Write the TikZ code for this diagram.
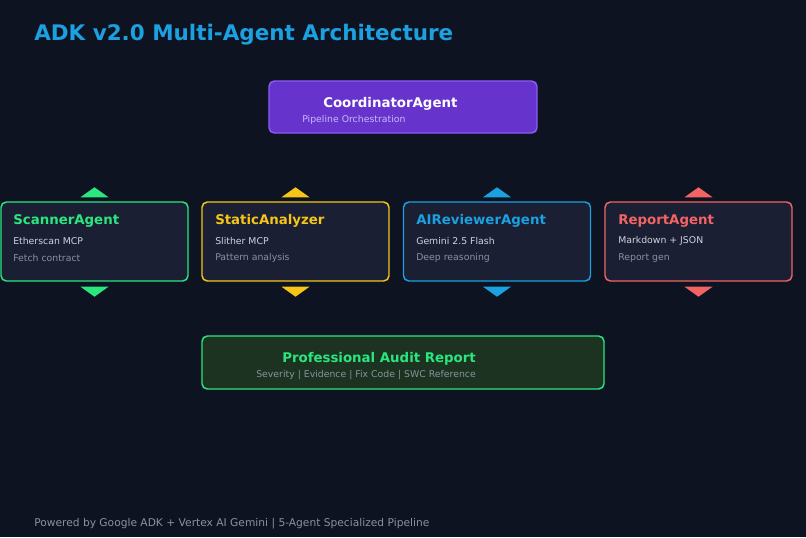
\documentclass[tikz,border=0pt]{standalone}
\usepackage{fontspec}
\setmainfont{DejaVu Sans}
\usetikzlibrary{calc}
\definecolor{bg}{HTML}{0E1322}
\definecolor{cardbg}{HTML}{1A1F33}
\definecolor{cgreen}{HTML}{2BE67F}
\definecolor{cyellow}{HTML}{F5C518}
\definecolor{cblue}{HTML}{1BA0E0}
\definecolor{cred}{HTML}{F26464}
\definecolor{cpurple}{HTML}{6633CC}
\definecolor{cpurpleb}{HTML}{8B5CF6}
\definecolor{cpurplet}{HTML}{C9B8F5}
\definecolor{ltext}{HTML}{D0D4DE}
\definecolor{gtext}{HTML}{8C919E}
\definecolor{auditbg}{HTML}{1B3320}
\tikzset{
  card/.style={draw=#1, line width=1.1pt, rounded corners=4pt, fill=cardbg, minimum width=187*0.75pt, minimum height=79*0.75pt, inner sep=0pt},
  ctitle/.style={anchor=west, font=\fontsize{10}{12}\selectfont\bfseries, text=#1, inner sep=0pt},
  cline/.style={anchor=west, font=\fontsize{7}{8.5}\selectfont, text=#1, inner sep=0pt},
}
\newcommand{\tri}[2]{% node, color
  \fill[#2] ($(#1.north)+(-14,-4)$) -- ($(#1.north)+(14,-4)$) -- ($(#1.north)+(0,-14)$) -- cycle;
  \fill[#2] ($(#1.south)+(-14,5)$) -- ($(#1.south)+(14,5)$) -- ($(#1.south)+(0,15)$) -- cycle;
}
\begin{document}
\begin{tikzpicture}[x=0.75pt,y=-0.75pt]
\fill[bg] (0,0) rectangle (806,537);
\useasboundingbox (0,0) rectangle (806,537);

\node[anchor=west, inner sep=0pt, font=\fontsize{16.1}{19}\selectfont\bfseries, text=cblue] (title) at (34,35) {ADK v2.0 Multi-Agent Architecture};

\node[draw=cpurpleb, line width=1.1pt, rounded corners=4pt, fill=cpurple, minimum width=268*0.75pt, minimum height=52*0.75pt, inner sep=0pt] (coord) at (403,107) {};
\node[ctitle=white] (coordt) at (323,104) {CoordinatorAgent};
\node[cline=cpurplet] (coords) at (302,120) {Pipeline Orchestration};

\node[card=cgreen] (scan) at (94.5,241.5) {};
\node[card=cyellow] (stat) at (295.5,241.5) {};
\node[card=cblue] (ai) at (497,241.5) {};
\node[card=cred] (rep) at (698.5,241.5) {};

\node[ctitle=cgreen] (scant) at (13,221) {ScannerAgent};
\node[cline=ltext] (scan1) at (13,241) {Etherscan MCP};
\node[cline=gtext] (scan2) at (13,258) {Fetch contract};

\node[ctitle=cyellow] (statt) at (215,221) {StaticAnalyzer};
\node[cline=ltext] (stat1) at (215,241) {Slither MCP};
\node[cline=gtext] (stat2) at (215,258) {Pattern analysis};

\node[ctitle=cblue] (ait) at (416,221) {AIReviewerAgent};
\node[cline=ltext] (ai1) at (416,241) {Gemini 2.5 Flash};
\node[cline=gtext] (ai2) at (416,258) {Deep reasoning};

\node[ctitle=cred] (rept) at (618,221) {ReportAgent};
\node[cline=ltext] (rep1) at (618,241) {Markdown + JSON};
\node[cline=gtext] (rep2) at (618,258) {Report gen};

\tri{scan}{cgreen}
\tri{stat}{cyellow}
\tri{ai}{cblue}
\tri{rep}{cred}

\node[draw=cgreen, line width=1.1pt, rounded corners=4pt, fill=auditbg, minimum width=402*0.75pt, minimum height=53*0.75pt, inner sep=0pt] (audit) at (403,362.5) {};
\node[ctitle=cgreen] (auditt) at (282,359) {Professional Audit Report};
\node[cline=gtext] (audits) at (256,375) {Severity | Evidence | Fix Code | SWC Reference};

\node[anchor=west, inner sep=0pt, font=\fontsize{8}{9.5}\selectfont, text=gtext] (foot) at (34,524) {Powered by Google ADK + Vertex AI Gemini | 5-Agent Specialized Pipeline};
\end{tikzpicture}
\end{document}
